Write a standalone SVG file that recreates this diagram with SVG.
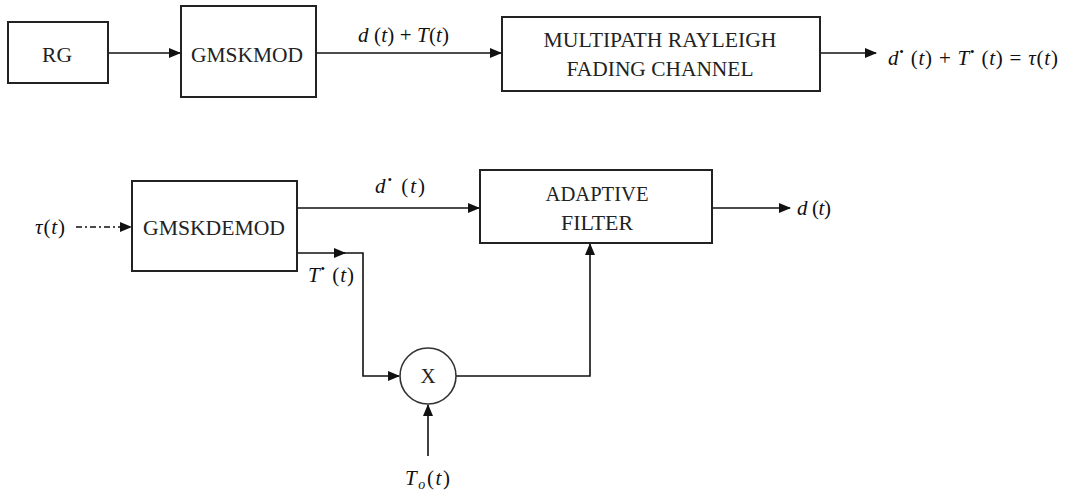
<svg xmlns="http://www.w3.org/2000/svg" width="1066" height="498" viewBox="0 0 1066 498">
<style>
.box{fill:#fff;stroke:#222;stroke-width:2}
.lbl{font-family:"Liberation Serif","Times New Roman",serif;font-size:21px;fill:#222}
.m{font-family:"Liberation Serif","Times New Roman",serif;font-size:21px;fill:#111}
.i{font-style:italic}
.w{fill:none;stroke:#111;stroke-width:1.6}
</style>
<defs>
<marker id="ah" markerWidth="12" markerHeight="10" refX="11" refY="5" orient="auto" markerUnits="userSpaceOnUse">
<path d="M0,0 L12,5 L0,10 Z" fill="#111"/>
</marker>
</defs>
<rect width="1066" height="498" fill="#fff"/>
<g id="connectors">
<line class="w" x1="108" y1="53" x2="180" y2="53" marker-end="url(#ah)"/>
<line class="w" x1="316" y1="53" x2="501" y2="53" marker-end="url(#ah)"/>
<line class="w" x1="820" y1="53" x2="876" y2="53" marker-end="url(#ah)"/>
<line class="w" x1="76" y1="227" x2="131" y2="227" stroke-dasharray="6 3 2 3" marker-end="url(#ah)"/>
<line class="w" x1="297" y1="208" x2="479" y2="208" marker-end="url(#ah)"/>
<line class="w" x1="712" y1="208" x2="790" y2="208" marker-end="url(#ah)"/>
<polyline class="w" points="297,253 345,253" marker-end="url(#ah)"/>
<polyline class="w" points="340,253 363,253 363,376 399,376" marker-end="url(#ah)"/>
<polyline class="w" points="456,376 590,376 590,244" marker-end="url(#ah)"/>
<line class="w" x1="428" y1="456" x2="428" y2="405" marker-end="url(#ah)"/>
</g>
<g id="rg"><rect class="box" x="8" y="22" width="100" height="61"/><text class="lbl" x="57" y="62" text-anchor="middle" textLength="30" lengthAdjust="spacingAndGlyphs">RG</text></g>
<g id="gmskmod"><rect class="box" x="181" y="6" width="135" height="91"/><text class="lbl" x="247" y="62" text-anchor="middle" textLength="112" lengthAdjust="spacingAndGlyphs">GMSKMOD</text></g>
<g id="channel"><rect class="box" x="502" y="17" width="318" height="74"/>
<text class="lbl" x="660" y="47" text-anchor="middle" textLength="233" lengthAdjust="spacingAndGlyphs">MULTIPATH RAYLEIGH</text>
<text class="lbl" x="660" y="76" text-anchor="middle" textLength="187" lengthAdjust="spacingAndGlyphs">FADING CHANNEL</text></g>
<g id="gmskdemod"><rect class="box" x="132" y="181" width="165" height="90"/><text class="lbl" x="214" y="235" text-anchor="middle" textLength="142" lengthAdjust="spacingAndGlyphs">GMSKDEMOD</text></g>
<g id="adaptive"><rect class="box" x="480" y="170" width="232" height="73"/>
<text class="lbl" x="597" y="201" text-anchor="middle" textLength="103" lengthAdjust="spacingAndGlyphs">ADAPTIVE</text>
<text class="lbl" x="597" y="230" text-anchor="middle" textLength="72" lengthAdjust="spacingAndGlyphs">FILTER</text></g>
<g id="mult"><circle cx="428" cy="376" r="28" fill="#fff" stroke="#333" stroke-width="1.6"/><text class="lbl" x="428" y="383" text-anchor="middle" font-size="19">X</text></g>
<g id="labels">
<text class="m" x="358" y="42" textLength="91" lengthAdjust="spacing"><tspan class="i">d</tspan> (<tspan class="i">t</tspan>) + <tspan class="i">T</tspan>(<tspan class="i">t</tspan>)</text>
<text class="m" x="888" y="65" textLength="170" lengthAdjust="spacing"><tspan class="i">d</tspan><tspan dy="-9" font-size="13">•</tspan><tspan dy="9"> (</tspan><tspan class="i">t</tspan>) + <tspan class="i">T</tspan><tspan dy="-9" font-size="13">•</tspan><tspan dy="9"> (</tspan><tspan class="i">t</tspan>) = <tspan class="i">τ</tspan>(<tspan class="i">t</tspan>)</text>
<text class="m" x="35" y="234" textLength="30" lengthAdjust="spacing"><tspan class="i">τ</tspan>(<tspan class="i">t</tspan>)</text>
<text class="m" x="375" y="193" textLength="50" lengthAdjust="spacing"><tspan class="i">d</tspan><tspan dy="-9" font-size="13">•</tspan><tspan dy="9"> (</tspan><tspan class="i">t</tspan>)</text>
<text class="m" x="308" y="282" textLength="46" lengthAdjust="spacing"><tspan class="i">T</tspan><tspan dy="-9" font-size="13">•</tspan><tspan dy="9"> (</tspan><tspan class="i">t</tspan>)</text>
<text class="m" x="797" y="215" textLength="34" lengthAdjust="spacing"><tspan class="i">d</tspan> (<tspan class="i">t</tspan>)</text>
<text class="m" x="405" y="485" textLength="45" lengthAdjust="spacing"><tspan class="i">T</tspan><tspan class="i" dy="4" font-size="14">o</tspan><tspan dy="-4">(</tspan><tspan class="i">t</tspan>)</text>
</g>
</svg>
